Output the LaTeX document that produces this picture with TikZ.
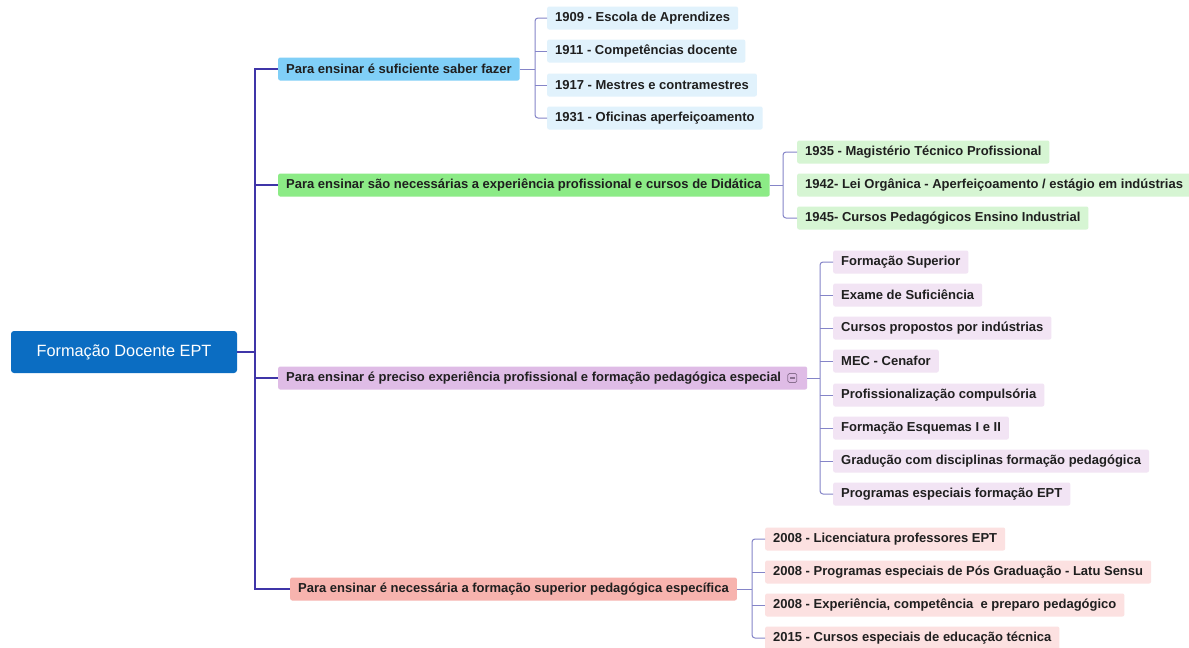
\documentclass[tikz,border=0pt]{standalone}
\usepackage{fontspec}
\setmainfont{Liberation Sans}
\begin{document}
\begin{tikzpicture}[x=1pt,y=-1pt,
  base/.style={anchor=west, minimum height=23pt, inner xsep=8pt, inner ysep=0pt, rounded corners=2pt, text=black!88, font=\fontsize{13pt}{15pt}\selectfont\bfseries},
  rootbox/.style={fill=rootblue, text=white, rounded corners=3pt, minimum width=226pt, minimum height=42pt, inner sep=0pt, font=\fontsize{16.3pt}{18pt}\selectfont},
  bA/.style={base, fill=bAc}, kA/.style={base, fill=kAc},
  bB/.style={base, fill=bBc}, kB/.style={base, fill=kBc},
  bC/.style={base, fill=bCc}, kC/.style={base, fill=kCc},
  bD/.style={base, fill=bDc}, kD/.style={base, fill=kDc},
  trunk/.style={draw=trunkc, line width=1.8pt},
  sub/.style={draw=subc, line width=1pt},
  iconbox/.style={draw=iconc, line width=0.8pt, rounded corners=1.5pt, minimum size=9pt, inner sep=0pt}
]
\definecolor{rootblue}{HTML}{0B6DC2}
\definecolor{bAc}{HTML}{80CFF7}
\definecolor{kAc}{HTML}{E1F2FC}
\definecolor{bBc}{HTML}{8CEB86}
\definecolor{kBc}{HTML}{D6F5D3}
\definecolor{bCc}{HTML}{DFBCE6}
\definecolor{kCc}{HTML}{F2E4F4}
\definecolor{bDc}{HTML}{F7B3AE}
\definecolor{kDc}{HTML}{FCE1E1}
\definecolor{trunkc}{HTML}{3F35A8}
\definecolor{subc}{HTML}{8585C8}
\definecolor{iconc}{HTML}{8A7090}

\useasboundingbox (0,0) rectangle (1189,648);
\fill[white] (0,0) rectangle (1189,648);

% root
\node[rootbox] (root) at (124,352) {Formação Docente EPT};

% branches
\node[bA] (b1) at (278,69) {Para ensinar é suficiente saber fazer};
\node[bB] (b2) at (278,185) {Para ensinar são necessárias a experiência profissional e cursos de Didática};
\node[bC] (b3) at (278,378) {Para ensinar é preciso experiência profissional e formação pedagógica especial\kern18pt};
\node[bD] (b4) at (290,589) {Para ensinar é necessária a formação superior pedagógica específica};

% collapse icon
\node[iconbox] (ic) at ([xshift=-15pt]b3.east) {};
\draw[iconc, line width=1.2pt] ([xshift=-2.2pt]ic.center) -- ([xshift=2.2pt]ic.center);

% children group A
\node[kA] (a1) at (547,18) {1909 - Escola de Aprendizes};
\node[kA] (a2) at (547,51) {1911 - Competências docente};
\node[kA] (a3) at (547,85) {1917 - Mestres e contramestres};
\node[kA] (a4) at (547,118) {1931 - Oficinas aperfeiçoamento};

% children group B
\node[kB] (g1) at (797,152) {1935 - Magistério Técnico Profissional};
\node[kB] (g2) at (797,185) {1942- Lei Orgânica - Aperfeiçoamento / estágio em indústrias};
\node[kB] (g3) at (797,218) {1945- Cursos Pedagógicos Ensino Industrial};

% children group C
\node[kC] (p1) at (833,262) {Formação Superior};
\node[kC] (p2) at (833,295) {Exame de Suficiência};
\node[kC] (p3) at (833,328) {Cursos propostos por indústrias};
\node[kC] (p4) at (833,361) {MEC - Cenafor};
\node[kC] (p5) at (833,395) {Profissionalização compulsória};
\node[kC] (p6) at (833,428) {Formação Esquemas I e II};
\node[kC] (p7) at (833,461) {Gradução com disciplinas formação pedagógica};
\node[kC] (p8) at (833,494) {Programas especiais formação EPT};

% children group D
\node[kD] (r1) at (765,539) {2008 - Licenciatura professores EPT};
\node[kD] (r2) at (765,572) {2008 - Programas especiais de Pós Graduação - Latu Sensu};
\node[kD] (r3) at (765,605) {2008 - Experiência, competência\ \ e preparo pedagógico};
\node[kD] (r4) at (765,638) {2015 - Cursos especiais de educação técnica};

% trunk
\coordinate (tr) at (255,0);
\draw[trunk] (root.east) -- (root.east -| tr);
\draw[trunk] (b1.west) -- (b1.west -| tr) -- (b4.west -| tr) -- (b4.west);
\draw[trunk] (b2.west -| tr) -- (b2.west);
\draw[trunk] (b3.west -| tr) -- (b3.west);

% group A connectors
\coordinate (ca) at (535,0);
\draw[sub] (b1.east) -- (b1.east -| ca);
\draw[sub, rounded corners=3pt] (a1.west) -- (a1.west -| ca) -- (a4.west -| ca) -- (a4.west);
\draw[sub] (a2.west -| ca) -- (a2.west);
\draw[sub] (a3.west -| ca) -- (a3.west);

% group B connectors
\coordinate (cb) at (783,0);
\draw[sub] (b2.east) -- (b2.east -| cb);
\draw[sub, rounded corners=3pt] (g1.west) -- (g1.west -| cb) -- (g3.west -| cb) -- (g3.west);

% group C connectors
\coordinate (cc) at (820,0);
\draw[sub] (b3.east) -- (b3.east -| cc);
\draw[sub, rounded corners=3pt] (p1.west) -- (p1.west -| cc) -- (p8.west -| cc) -- (p8.west);
\foreach \n in {p2,p3,p4,p5,p6,p7} \draw[sub] (\n.west -| cc) -- (\n.west);

% group D connectors
\coordinate (cd) at (752,0);
\draw[sub] (b4.east) -- (b4.east -| cd);
\draw[sub, rounded corners=3pt] (r1.west) -- (r1.west -| cd) -- (r4.west -| cd) -- (r4.west);
\draw[sub] (r2.west -| cd) -- (r2.west);
\draw[sub] (r3.west -| cd) -- (r3.west);
\end{tikzpicture}
\end{document}
